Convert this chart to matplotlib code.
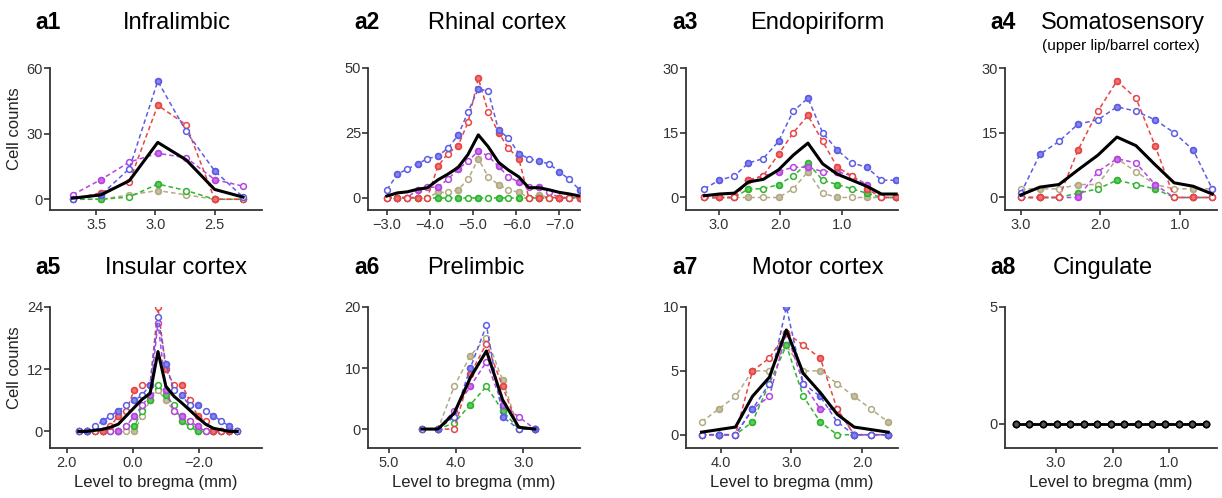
import matplotlib
matplotlib.use("Agg")
import matplotlib.pyplot as plt

plt.rcParams['font.family'] = ['Liberation Sans', 'DejaVu Sans']

# colours of the five animals + mean
c_blue = '#5c5ce6'
c_red = '#e84545'
c_purple = '#b445e0'
c_green = '#2fb52f'
c_tan = '#b3aa84'

# a1 Infralimbic
a1_x = [3.70, 3.46, 3.22, 2.98, 2.74, 2.50, 2.26]
a1_blue = [0, 2, 14, 54, 31, 13, 1]
a1_red = [0, 3, 8, 43, 34, 0, 0]
a1_purple = [2, 9, 17, 21, 19, 9, 6]
a1_green = [0, 0, 1, 7, 4, 0, 0]
a1_tan = [0, 0, 2, 4, 2, 0, 0]
a1_mean = [0.5, 2, 8.5, 26, 18, 4.5, 1]

# a2 Rhinal cortex
a2_x = [-3.00, -3.24, -3.47, -3.71, -3.94, -4.18, -4.41, -4.65, -4.88, -5.12,
        -5.35, -5.59, -5.82, -6.06, -6.29, -6.53, -6.76, -7.00, -7.23, -7.47]
a2_blue = [3, 9, 11, 13, 15, 16, 19, 24, 33, 42, 41, 26, 23, 17, 15, 14, 13, 10, 7, 3]
a2_red = [0, 0, 0, 0, 0, 12, 17, 20, 29, 46, 33, 25, 19, 15, 0, 0, 0, 0, 0, 0]
a2_purple = [0, 0, 0, 3, 4, 4, 7, 11, 14, 18, 16, 12, 8, 6, 4, 4, 2, 0, 0, 0]
a2_green = [0] * 20
a2_tan = [0, 0, 0, 0, 0, 2, 2, 3, 7, 15, 8, 5, 3, 2, 0, 1, 0, 0, 0, 0]
a2_mean = [0.6, 1.8, 2.2, 3.2, 3.8, 6.8, 9, 11.6, 16.6, 24.2,
           19.6, 13.6, 10.6, 8, 3.8, 3.8, 3, 2, 1.4, 0.6]

# a3 Endopiriform
a3_x = [3.24, 3.00, 2.75, 2.52, 2.28, 2.03, 1.79, 1.55, 1.31, 1.07, 0.83, 0.59, 0.35, 0.11]
a3_blue = [2, 4, 5, 8, 9, 13, 20, 23, 15, 11, 8, 7, 4, 4]
a3_red = [0, 0, 0, 4, 5, 10, 15, 19, 13, 7, 5, 2, 0, 0]
a3_purple = [0, 0, 0, 4, 5, 6, 7, 7, 6, 6, 5, 3, 0, 0]
a3_green = [0, 0, 0, 2, 2, 3, 5, 8, 4, 3, 2, 1, 0, 0]
a3_tan = [0, 0, 0, 0, 0, 0, 2, 6, 1, 0, 0, 0, 0, 0]
a3_mean = [0.4, 0.8, 1.0, 3.6, 4.2, 6.4, 9.8, 12.6, 7.8, 5.4, 4, 2.6, 0.8, 0.8]

# a4 Somatosensory
a4_x = [3.00, 2.76, 2.52, 2.28, 2.03, 1.79, 1.55, 1.31, 1.07, 0.83, 0.59]
a4_blue = [1, 10, 13, 17, 18, 21, 20, 18, 15, 11, 2]
a4_red = [0, 0, 0, 11, 20, 27, 23, 12, 0, 0, 0]
a4_purple = [0, 0, 0, 0, 6, 9, 8, 3, 0, 0, 0]
a4_green = [0, 0, 0, 1, 2, 4, 3, 2, 0, 0, 0]
a4_tan = [2, 2, 2, 3, 3, 9, 6, 3, 2, 2, 2]
a4_mean = [0.6, 2.4, 3, 6.4, 9.8, 14, 12, 7.6, 3.4, 2.6, 0.8]

# a5 Insular cortex
a5_x = [1.63, 1.39, 1.15, 0.91, 0.67, 0.43, 0.19, -0.05, -0.29, -0.53, -0.77,
        -1.01, -1.25, -1.49, -1.73, -1.97, -2.21, -2.45, -2.69, -2.93, -3.17]
a5_blue = [0, 0, 1, 2, 3, 4, 5, 6, 7, 9, 22, 13, 8, 7, 5, 5, 4, 3, 2, 1, 0]
a5_red = [0, 0, 0, 0, 1, 3, 4, 8, 9, 9, 24, 12, 9, 9, 6, 3, 2, 0, 0, 0, 0]
a5_purple = [0, 0, 0, 0, 0, 0, 1, 3, 5, 7, 21, 8, 4, 3, 2, 1, 0, 0, 0, 0, 0]
a5_green = [0, 0, 0, 0, 0, 0, 1, 1, 4, 6, 9, 7, 5, 2, 1, 0, 0, 0, 0, 0, 0]
a5_tan = [0, 0, 0, 0, 0, 0, 0, 0, 3, 6, 8, 6, 4, 3, 2, 0, 0, 0, 0, 0, 0]
a5_mean = [0, 0, 0.2, 0.4, 0.8, 1.4, 3, 4.6, 6.2, 7.3, 15.4,
           8.7, 6.8, 5.5, 4.1, 2.7, 1.4, 0.6, 0.3, 0, 0]

# a6 Prelimbic
a6_x = [4.51, 4.27, 4.03, 3.79, 3.55, 3.31, 3.07, 2.83]
a6_blue = [0, 0, 2, 10, 17, 2, 0, 0]
a6_red = [0, 0, 0, 9, 14, 7, 0, 0]
a6_purple = [0, 0, 3, 7, 11, 4, 2, 0]
a6_green = [0, 0, 1, 4, 7, 3, 0, 0]
a6_tan = [0, 0, 7, 12, 15, 8, 0, 0]
a6_mean = [0, 0, 2.6, 8.4, 12.8, 4.8, 0.3, 0]

# a7 Motor cortex
a7_x = [4.27, 4.03, 3.79, 3.55, 3.31, 3.07, 2.83, 2.59, 2.35, 2.11, 1.87, 1.63]
a7_blue = [0, 0, 0, 2, 4, 10, 4, 3, 1, 0, 0, 0]
a7_red = [0, 0, 0, 5, 6, 8, 7, 6, 2, 0, 0, 0]
a7_purple = [0, 0, 0, 2, 3, 8, 4, 2, 2, 0, 0, 0]
a7_green = [0, 0, 0, 1, 4, 7, 3, 1, 0, 0, 0, 0]
a7_tan = [1, 2, 3, 5, 5, 7, 5, 5, 4, 3, 2, 1]
a7_mean = [0.2, 0.4, 0.6, 3, 4.5, 8.2, 4.8, 3.3, 1.6, 0.6, 0.4, 0.2]

# a8 Cingulate
a8_x = [3.71, 3.47, 3.23, 2.99, 2.75, 2.51, 2.27, 2.03, 1.79, 1.55, 1.31, 1.07, 0.83, 0.59, 0.35]
a8_zero = [0] * 15

panels = [
    ('a1', 'Infralimbic', a1_x, [a1_tan, a1_green, a1_purple, a1_red, a1_blue], a1_mean,
     (3.89, 2.10), (-4.9, 60), [3.5, 3.0, 2.5], [0, 30, 60]),
    ('a2', 'Rhinal cortex', a2_x, [a2_tan, a2_green, a2_purple, a2_red, a2_blue], a2_mean,
     (-2.56, -7.48), (-4.8, 50), [-3, -4, -5, -6, -7], [0, 25, 50]),
    ('a3', 'Endopiriform', a3_x, [a3_tan, a3_green, a3_purple, a3_red, a3_blue], a3_mean,
     (3.54, 0.08), (-2.9, 30), [3, 2, 1], [0, 15, 30]),
    ('a4', 'Somatosensory', a4_x, [a4_tan, a4_green, a4_purple, a4_red, a4_blue], a4_mean,
     (3.2, 0.53), (-2.9, 30), [3, 2, 1], [0, 15, 30]),
    ('a5', 'Insular cortex', a5_x, [a5_tan, a5_green, a5_purple, a5_red, a5_blue], a5_mean,
     (2.5, -3.92), (-3.2, 24), [2, 0, -2], [0, 12, 24]),
    ('a6', 'Prelimbic', a6_x, [a6_tan, a6_green, a6_purple, a6_red, a6_blue], a6_mean,
     (5.31, 2.16), (-3.1, 20), [5, 4, 3], [0, 10, 20]),
    ('a7', 'Motor cortex', a7_x, [a7_tan, a7_green, a7_purple, a7_red, a7_blue], a7_mean,
     (4.49, 1.49), (-1.04, 10), [4, 3, 2], [0, 5, 10]),
    ('a8', 'Cingulate', a8_x, [a8_zero] * 5, a8_zero,
     (3.9, 0.155), (-1.04, 5), [3, 2, 1], [0, 5]),
]
colors = [c_tan, c_green, c_purple, c_red, c_blue]

# layout in pixels (figure is 1222 x 498)
W, H = 1222, 498
col_left = [50, 368, 686, 1005]
ax_w = 212
row_top = [68, 307]
row_bot = [210, 448]
tag_x = [35, 354, 672, 990]
title_cx = [177, 497, 817, 1123, 176, 476, 818, 1103]
title_base = [29, 274]

fig = plt.figure(figsize=(W / 100, H / 100), dpi=100)

for i, (tag, name, x, series, mean, xl, yl, xt, yt) in enumerate(panels):
    r, c = divmod(i, 4)
    ax = fig.add_axes([col_left[c] / W, 1 - row_bot[r] / H,
                       ax_w / W, (row_bot[r] - row_top[r]) / H])
    for ys, col in zip(series, colors):
        ax.plot(x, ys, ls=(0, (3, 2)), lw=1.1, color=col, marker='o', ms=4.2,
                mfc='white', mec=col, mew=1.1)
        ax.plot(x, ys, ls='none', marker='o', ms=4.2, mfc=col, mec=col,
                mew=1.1, alpha=0.75, markevery=slice(1, None, 2))
    if tag == 'a8':
        ax.plot(x, mean, color='black', lw=2.0, marker='o', ms=4.5,
                mfc='#555555', mec='black', mew=1.2, zorder=5)
    else:
        ax.plot(x, mean, color='black', lw=2.2, zorder=5)

    ax.set_xlim(xl)
    ax.set_ylim(yl)
    ax.set_xticks(xt)
    ax.set_xticklabels([('%.1f' % v).replace('-', '\u2212') for v in xt])
    ax.set_yticks(yt)
    for s in ['top', 'right']:
        ax.spines[s].set_visible(False)
    for s in ['left', 'bottom']:
        ax.spines[s].set_linewidth(1.3)
        ax.spines[s].set_color('#333333')
    ax.spines['left'].set_bounds(yl[0], yt[-1])
    ax.tick_params(axis='x', length=3.5, width=1.2, pad=2, colors='#333333', labelsize=10.5)
    ax.tick_params(axis='y', length=4, width=1.2, pad=1, colors='#333333', labelsize=10.5)

    if c == 0:
        ax.set_ylabel('Cell counts', fontsize=12, color='#222222')
        ax.yaxis.set_label_coords(-0.13, 0.57)
    if r == 1:
        ax.set_xlabel('Level to bregma (mm)', fontsize=12, color='#222222')
        ax.xaxis.set_label_coords(0.5, -0.19)

    fig.text(tag_x[c] / W, 1 - title_base[r] / H, tag, fontsize=16.5,
             fontweight='bold', ha='left', va='baseline')
    fig.text(title_cx[i] / W, 1 - title_base[r] / H, name, fontsize=17,
             ha='center', va='baseline')

fig.text(1121 / W, 1 - 50 / H, '(upper lip/barrel cortex)', fontsize=11,
         ha='center', va='baseline')

fig.savefig('out.png', dpi=100)
